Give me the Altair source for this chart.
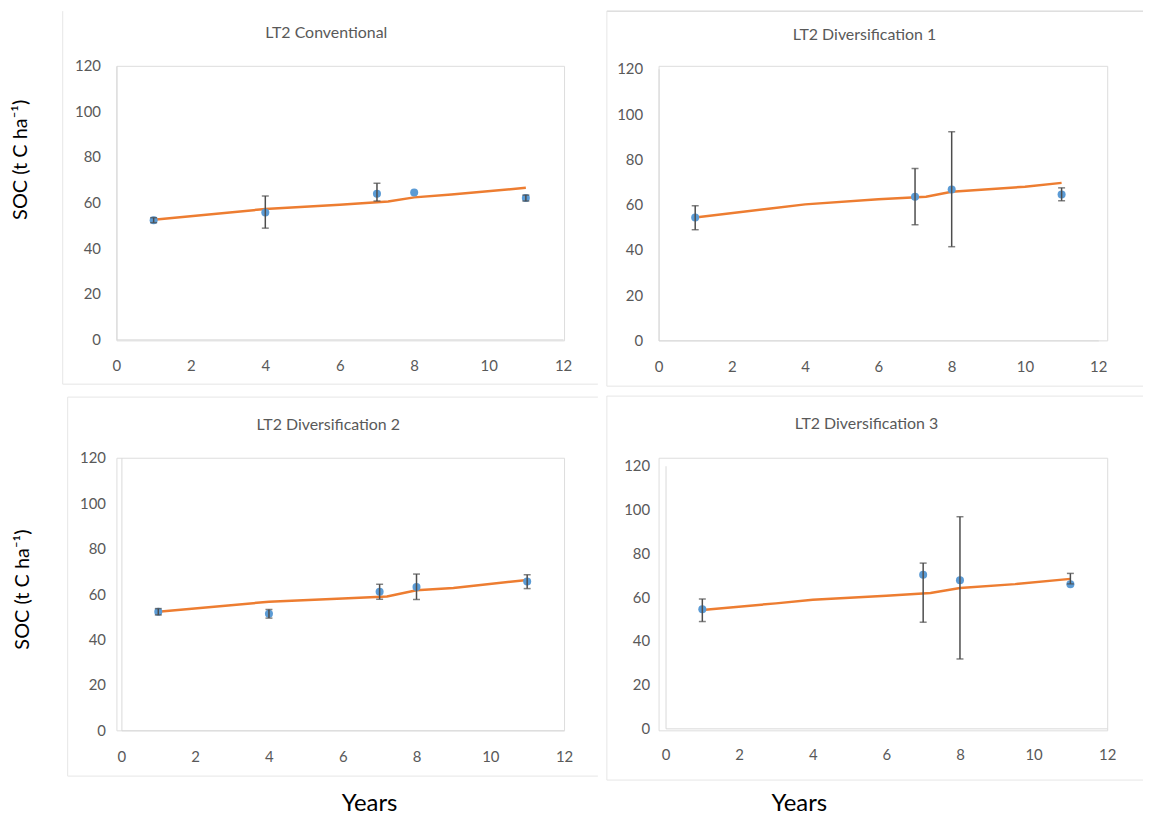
import altair as alt
import pandas as pd

# ---------------- data ----------------
titles = ["LT2 Conventional", "LT2 Diversification 1",
          "LT2 Diversification 2", "LT2 Diversification 3"]

obs_years = [[1, 4, 7, 8, 11], [1, 7, 8, 11], [1, 4, 7, 8, 11], [1, 7, 8, 11]]
obs_soc = [[52.3, 55.7, 63.9, 64.4, 62.0],
           [54.3, 63.5, 66.7, 64.5],
           [52.2, 51.3, 61.0, 63.1, 65.5],
           [54.4, 70.2, 67.7, 65.8]]

err_years = [[1, 4, 7, 11], [1, 7, 8, 11], [1, 4, 7, 8, 11], [1, 7, 8, 11]]
err_lo = [[51.2, 48.8, 60.7, 60.7],
          [48.9, 51.1, 41.4, 61.7],
          [50.8, 49.4, 57.7, 57.6, 62.4],
          [48.8, 48.5, 31.7, 66.0]]
err_hi = [[53.4, 62.9, 68.5, 63.3],
          [59.5, 75.9, 92.2, 67.4],
          [53.6, 53.2, 64.3, 68.8, 68.5],
          [59.1, 75.5, 96.7, 70.8]]

model_years = [[1, 4, 6, 7.3, 8, 9, 11],
               [1, 3, 4, 6, 7.3, 8, 10, 11],
               [1, 4, 6, 7.2, 8, 9, 11],
               [1, 3, 4, 6, 7.2, 8, 9.5, 11]]
model_soc = [[52.5, 57.2, 59.1, 60.5, 62.3, 63.6, 66.5],
             [54.3, 58.2, 60.1, 62.4, 63.5, 65.7, 67.9, 69.6],
             [52.2, 56.6, 58.0, 58.9, 61.7, 62.7, 66.2],
             [54.1, 57.1, 58.8, 60.6, 61.8, 64.1, 65.9, 68.3]]

x_ticks = [0, 2, 4, 6, 8, 10, 12]
y_ticks = [0, 20, 40, 60, 80, 100, 120]
y_title = "SOC (t C ha\u207b\u00b9)"
x_title = "Years"

# ---------------- styling / layout ----------------
FONT = "Lato"
GREY = "#595959"
AXIS_LINE = "#d9d9d9"
FRAME = "#e6e6e6"
BLUE = "#5B9BD5"
ORANGE = "#ED7D31"
BAR = "#4d4d4d"
TITLE_SHIFT = 17  # empirical constant of the title placement

# page-coordinate layout; ox/oy = group origin shared along a row / column
layout = [
    dict(ox=116, oy=66, W=450, H=276, xr=[0, 449], yr=[275, 0],
         box=(8, 11, 600, 390), tbase=38, tcx=327, ytitle=(30, 160), xtitle=None,
         edges=[("v", 62, 11, 386, FRAME), ("h", 386, 62, 600, FRAME)]),
    dict(ox=659, oy=66, W=451, H=276, xr=[0, 442], yr=[276, 3],
         box=(604, 11, 1146, 390), tbase=40, tcx=866, ytitle=None, xtitle=None,
         edges=[("h", 11, 607, 1146, "#cccccc"), ("v", 607, 11, 388, FRAME),
                ("h", 388, 607, 1146, FRAME)]),
    dict(ox=116, oy=458, W=450, H=274, xr=[5, 450], yr=[274, 0],
         box=(8, 392, 600, 812), tbase=429, tcx=329, ytitle=(32, 590), xtitle=(370, 813),
         edges=[("h", 397, 67, 600, FRAME), ("v", 67, 397, 778, FRAME),
                ("h", 778, 67, 600, FRAME)]),
    dict(ox=659, oy=458, W=451, H=274, xr=[7, 451], yr=[272, 8],
         box=(604, 392, 1146, 812), tbase=428, tcx=868, ytitle=None, xtitle=(800, 813),
         edges=[("h", 396, 607, 1146, FRAME), ("v", 607, 396, 782, FRAME),
                ("h", 782, 607, 1146, FRAME)]),
]

one = pd.DataFrame({"d": [0]})


def make_panel(i):
    L = layout[i]
    ox, oy, W, H = L["ox"], L["oy"], L["W"], L["H"]
    xr, yr = L["xr"], L["yr"]
    bx1, by1, bx2, by2 = L["box"]
    yaxis_x = ox + xr[0]          # page x of the y-axis line
    xaxis_y = oy + yr[0]          # page y of the x-axis line

    obs = pd.DataFrame({"year": obs_years[i], "soc": obs_soc[i]})
    err = pd.DataFrame({"year": err_years[i], "lo": err_lo[i], "hi": err_hi[i]})
    mod = pd.DataFrame({"year": model_years[i], "soc": model_soc[i]})

    xaxis = dict(values=x_ticks, domainColor=AXIS_LINE, domainWidth=1, ticks=False,
                 grid=False, labelColor=GREY, labelFont=FONT, labelFontSize=15,
                 labelPadding=19, labelFlush=False, offset=-(H - yr[0]))
    if L["xtitle"]:
        xaxis.update(title=x_title, titleFont=FONT, titleFontSize=24, titleColor="black",
                     titleFontWeight="normal", titleBaseline="alphabetic",
                     titleX=L["xtitle"][0] - ox, titleY=L["xtitle"][1] - xaxis_y)
    else:
        xaxis.update(title="")
    yaxis = dict(values=y_ticks, domainColor=AXIS_LINE, domainWidth=1, ticks=False,
                 grid=False, labelColor=GREY, labelFont=FONT, labelFontSize=15,
                 labelPadding=16, offset=-xr[0])
    if L["ytitle"]:
        yaxis.update(title=y_title, titleFont=FONT, titleFontSize=20, titleColor="black",
                     titleFontWeight="normal", titleAngle=270, titleBaseline="bottom",
                     titleX=L["ytitle"][0] - yaxis_x, titleY=L["ytitle"][1] - oy)
    else:
        yaxis.update(title="")

    X = alt.X("year:Q", scale=alt.Scale(domain=[0, 12], nice=False, range=xr),
              axis=alt.Axis(**xaxis))
    Y = alt.Y("soc:Q", scale=alt.Scale(domain=[0, 120], nice=False, range=yr),
              axis=alt.Axis(**yaxis))

    # invisible box fixing the panel's extent in the concat layout
    box = alt.Chart(one).mark_rect(opacity=0).encode(
        x=alt.value(bx1 - ox), x2=alt.value(bx2 - ox),
        y=alt.value(by1 - oy), y2=alt.value(by2 - oy))

    layers = [box]
    for kind, a, b1, b2, col in L["edges"]:
        if kind == "v":
            enc = dict(x=alt.value(a - ox), x2=alt.value(a - ox),
                       y=alt.value(b1 - oy), y2=alt.value(b2 - oy))
        else:
            enc = dict(x=alt.value(b1 - ox), x2=alt.value(b2 - ox),
                       y=alt.value(a - oy), y2=alt.value(a - oy))
        layers.append(alt.Chart(one).mark_rule(color=col, strokeWidth=1).encode(**enc))

    line = alt.Chart(mod).mark_line(color=ORANGE, strokeWidth=2.5).encode(x=X, y=Y)
    pts = alt.Chart(obs).mark_circle(color=BLUE, size=65, opacity=1).encode(x=X, y=Y)
    bars = alt.Chart(err).mark_rule(color=BAR, strokeWidth=1.5).encode(
        x=X, y=alt.Y("lo:Q"), y2="hi:Q")
    cap_lo = alt.Chart(err).mark_tick(color=BAR, orient="horizontal", size=7,
                                      thickness=1.5).encode(x=X, y=alt.Y("lo:Q"))
    cap_hi = alt.Chart(err).mark_tick(color=BAR, orient="horizontal", size=7,
                                      thickness=1.5).encode(x=X, y=alt.Y("hi:Q"))
    layers += [line, pts, bars, cap_lo, cap_hi]

    base_rel = L["tbase"] - oy
    box_rel = by1 - oy
    title = alt.TitleParams(text=titles[i], font=FONT, fontSize=16, color=GREY,
                            fontWeight="normal", baseline="alphabetic", anchor="middle",
                            frame="group", dx=L["tcx"] - (ox + W / 2),
                            offset=box_rel - TITLE_SHIFT - base_rel)
    return alt.layer(*layers).properties(width=W, height=H, title=title)


row1 = alt.hconcat(make_panel(0), make_panel(1), spacing=4)
row2 = alt.hconcat(make_panel(2), make_panel(3), spacing=4)
chart = alt.vconcat(row1, row2, spacing=2).properties(
    padding={"left": 0, "top": 0, "right": 0, "bottom": 0}
).configure_view(strokeWidth=0).configure(background="white")

chart.save("out.html", embed_options={"renderer": "svg", "actions": False})
